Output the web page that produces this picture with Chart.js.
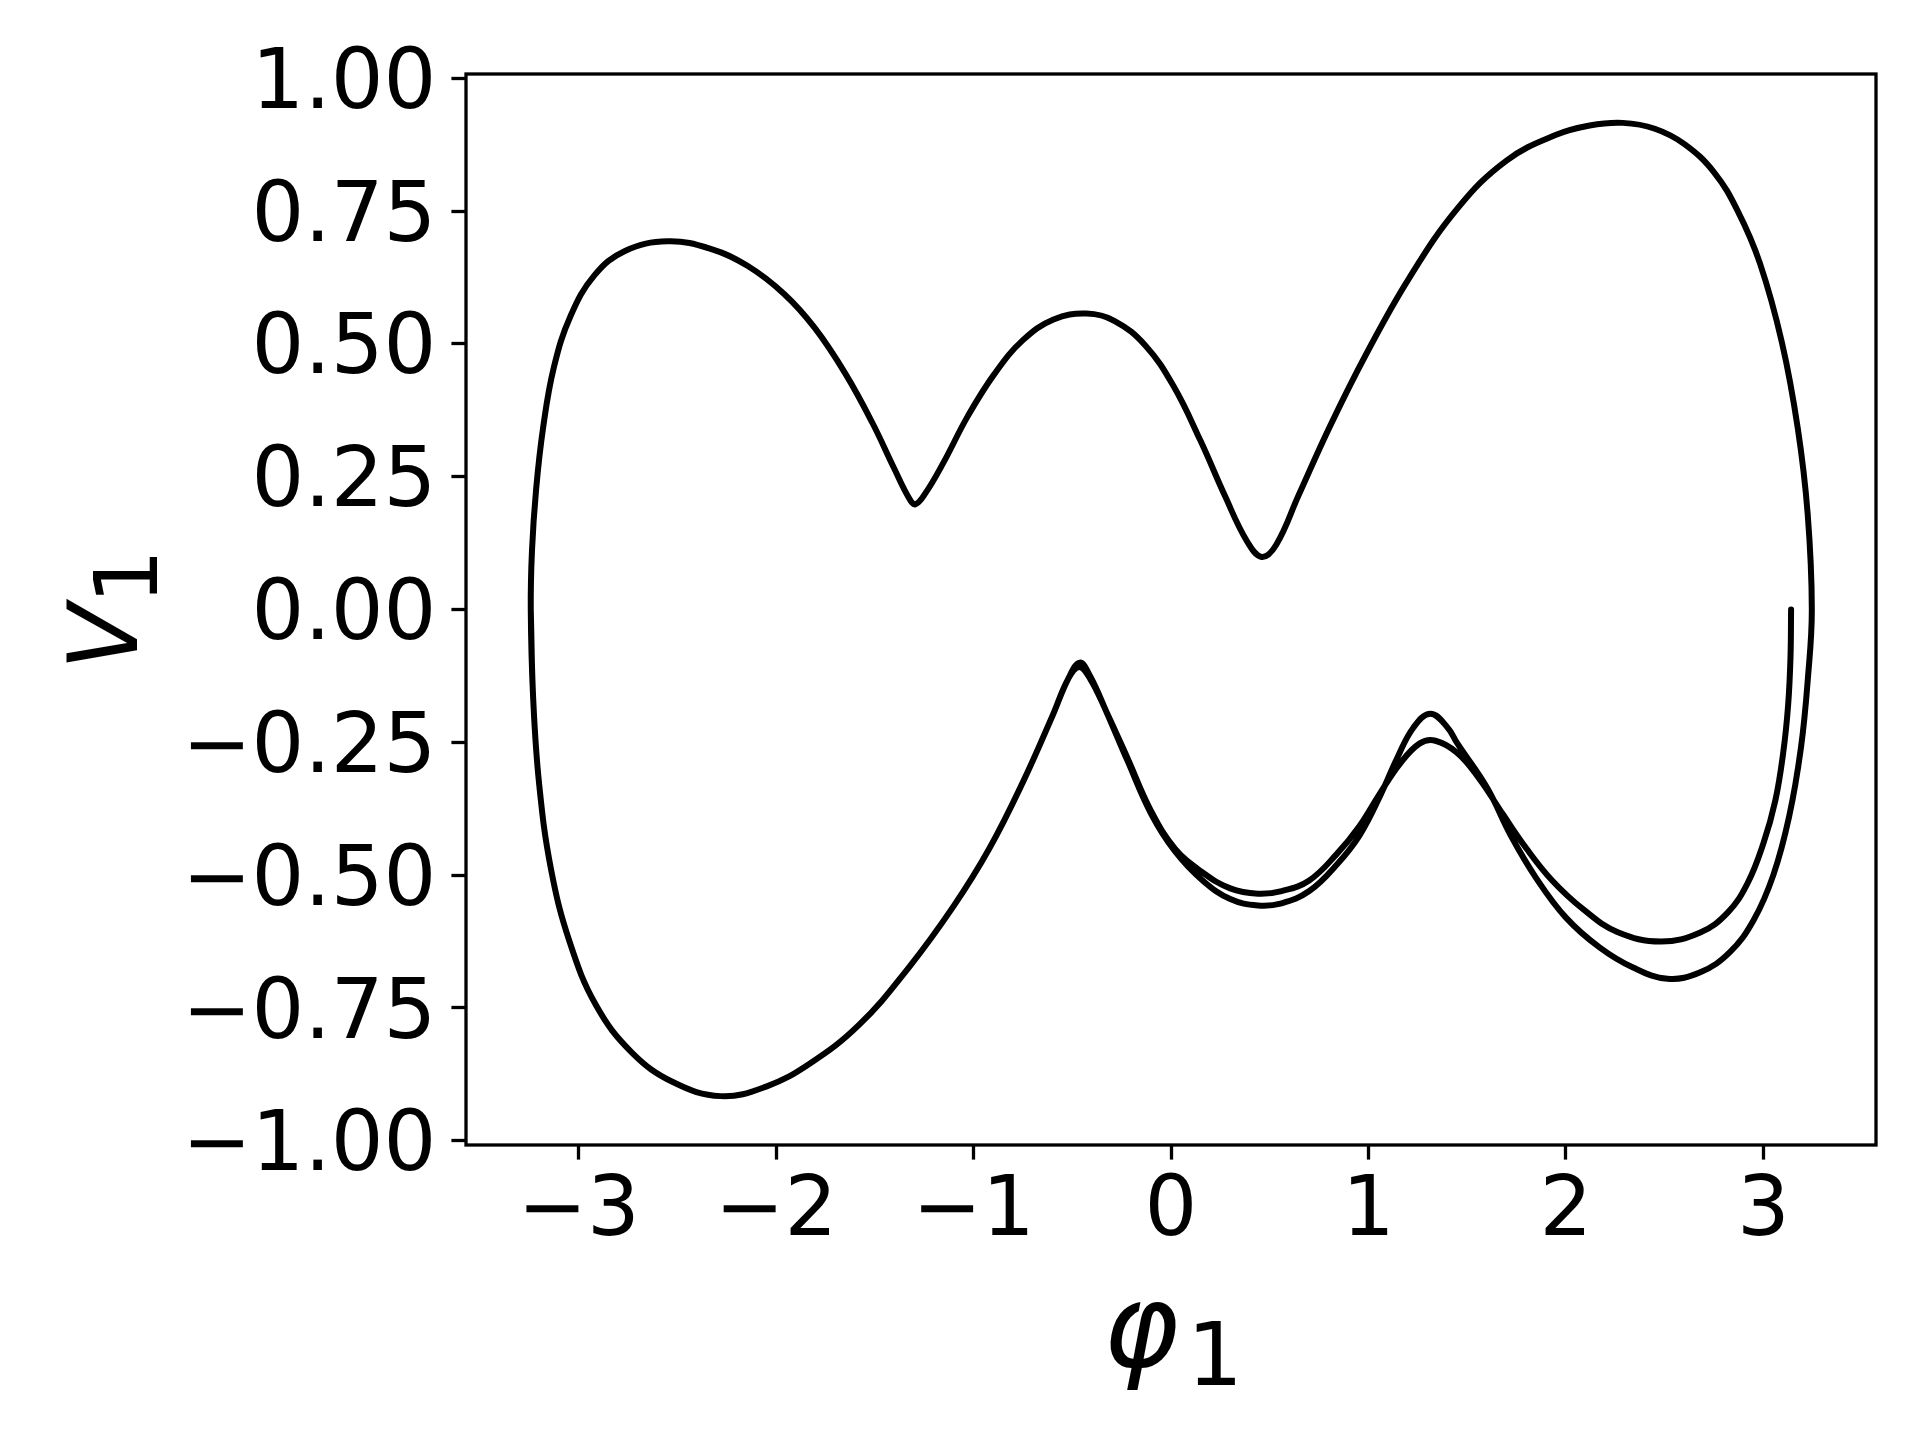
<!DOCTYPE html>
<html>
<head>
<meta charset="utf-8">
<title>phase portrait</title>
<script src="https://cdn.jsdelivr.net/npm/chart.js@4.4.1/dist/chart.umd.min.js"></script>
<style>
    html, body { margin: 0; padding: 0; background: #fff; }
    #wrap { width: 1920px; height: 1440px; }
</style>
</head>
<body>
<div id="wrap"><canvas id="phase" width="1920" height="1440"></canvas></div>
<script>
/* ---- data (phi_1, V_1) ---- */
/* first pass: starts at (pi, 0), inner strand of the lower right loop */
var innerPhi = [3.14, 3.137, 3.125, 3.10, 3.06, 3.00, 2.92, 2.82, 2.68, 2.48, 2.26, 2.09, 1.93, 1.80, 1.68, 1.56, 1.45, 1.339, 1.26, 1.16, 1.06, 0.95, 0.84, 0.70, 0.56, 0.44, 0.30, 0.16, 0.02, -0.10, -0.22, -0.33, -0.41, -0.465];
var innerV   = [0.0, -0.09, -0.18, -0.27, -0.36, -0.44, -0.515, -0.57, -0.608, -0.625, -0.607, -0.565, -0.51, -0.45, -0.385, -0.318, -0.27, -0.247, -0.252, -0.29, -0.345, -0.41, -0.46, -0.51, -0.53, -0.535, -0.525, -0.495, -0.45, -0.38, -0.28, -0.19, -0.13, -0.108];

/* lower left arc, from the small peak near -0.47 back to the left edge */
var arcPhi = [-0.52, -0.60, -0.75, -0.92, -1.10, -1.33, -1.58, -1.83, -2.05, -2.28, -2.52, -2.73, -2.91, -3.045, -3.14, -3.20, -3.23, -3.242];
var arcV   = [-0.13, -0.20, -0.325, -0.45, -0.558, -0.675, -0.782, -0.855, -0.898, -0.916, -0.89, -0.834, -0.746, -0.626, -0.488, -0.327, -0.166, 0.0];

/* upper half, left edge to right edge */
var upperPhi = [-3.236, -3.215, -3.18, -3.125, -3.04, -2.92, -2.765, -2.548, -2.331, -2.145, -1.959, -1.804, -1.649, -1.513, -1.401, -1.327, -1.295, -1.245, -1.153, -1.029, -0.893, -0.750, -0.595, -0.428, -0.285, -0.130, 0.012, 0.149, 0.273, 0.384, 0.459, 0.533, 0.645, 0.800, 0.986, 1.203, 1.451, 1.699, 1.947, 2.12, 2.288, 2.45, 2.60, 2.75, 2.87, 2.982, 3.094, 3.174, 3.224, 3.245];
var upperV   = [0.11, 0.226, 0.341, 0.456, 0.553, 0.629, 0.675, 0.693, 0.679, 0.647, 0.594, 0.530, 0.444, 0.352, 0.265, 0.210, 0.198, 0.218, 0.276, 0.364, 0.444, 0.507, 0.546, 0.557, 0.543, 0.497, 0.421, 0.318, 0.214, 0.129, 0.099, 0.122, 0.214, 0.341, 0.479, 0.622, 0.755, 0.845, 0.893, 0.911, 0.916, 0.905, 0.876, 0.823, 0.75, 0.652, 0.502, 0.341, 0.180, 0.0];

/* lower half, outer strand, right edge to the small peak near -0.47 */
var outerPhi = [3.225, 3.19, 3.13, 3.05, 2.95, 2.83, 2.68, 2.514, 2.34, 2.17, 2.00, 1.85, 1.72, 1.60, 1.45, 1.40, 1.314, 1.228, 1.146, 1.06, 0.955, 0.84, 0.70, 0.56, 0.44, 0.30, 0.16, 0.02, -0.10, -0.22, -0.33, -0.41, -0.462];
var outerV   = [-0.13, -0.26, -0.39, -0.50, -0.585, -0.645, -0.683, -0.695, -0.674, -0.636, -0.580, -0.506, -0.425, -0.335, -0.252, -0.222, -0.196, -0.222, -0.279, -0.35, -0.425, -0.48, -0.53, -0.553, -0.557, -0.545, -0.51, -0.455, -0.385, -0.285, -0.19, -0.125, -0.100];

var xTicks = [-3, -2, -1, 0, 1, 2, 3];
var yTicks = [-1.0, -0.75, -0.5, -0.25, 0.0, 0.25, 0.5, 0.75, 1.0];

(function() {
    'use strict';

    var FONT = "'DejaVu Sans', 'Liberation Sans', sans-serif";
    var MINUS = '\u2212';

    /* trajectory order: inner pass -> arc -> upper -> outer -> arc */
    function pts(xs, ys) {
        return xs.map(function(x, i) { return { x: x, y: ys[i] }; });
    }
    var trajectory = []
        .concat(pts(innerPhi, innerV))
        .concat(pts(arcPhi, arcV))
        .concat(pts(upperPhi, upperV))
        .concat(pts(outerPhi, outerV))
        .concat(pts(arcPhi, arcV));

    function fmt(v, digits) {
        var s = Math.abs(v).toFixed(digits);
        return (v < -1e-9 ? MINUS : '') + s;
    }

    /* mathtext-like label: italic symbol + upright, lowered subscript */
    function drawMathLabel(ctx, main, mainSize, sub, subSize, gap, cx, baseline, drop) {
        ctx.font = 'italic ' + mainSize + 'px ' + FONT;
        var wm = ctx.measureText(main).width;
        ctx.font = subSize + 'px ' + FONT;
        var ws = ctx.measureText(sub).width;
        var x0 = cx - (wm + gap + ws) / 2;
        ctx.textAlign = 'left';
        ctx.textBaseline = 'alphabetic';
        ctx.fillStyle = '#000';
        ctx.font = 'italic ' + mainSize + 'px ' + FONT;
        ctx.fillText(main, x0, baseline);
        ctx.font = subSize + 'px ' + FONT;
        ctx.fillText(sub, x0 + wm + gap, baseline + drop);
    }

    var framePlugin = {
        id: 'frame',
        afterDraw: function(chart) {
            var a = chart.chartArea;
            var ctx = chart.ctx;
            ctx.save();
            ctx.lineWidth = 3.3;
            ctx.strokeStyle = '#000';
            ctx.strokeRect(a.left, a.top, a.right - a.left, a.bottom - a.top);

            drawMathLabel(ctx, '\u03C6', 115, '1', 88, 8, (a.left + a.right) / 2 + 2, 1366, 19);

            ctx.translate(137, (a.top + a.bottom) / 2);
            ctx.rotate(-Math.PI / 2);
            drawMathLabel(ctx, 'V', 96, '1', 87, 0, 0, 0, 20);
            ctx.restore();
        }
    };

    var tickGrid = {
        display: true,
        drawOnChartArea: false,
        drawTicks: true,
        tickLength: 14.6,
        tickWidth: 3.3,
        tickColor: '#000'
    };

    new Chart(document.getElementById('phase'), {
        type: 'scatter',
        data: {
            datasets: [{
                data: trajectory,
                showLine: true,
                borderColor: '#000',
                borderWidth: 6,
                borderJoinStyle: 'round',
                borderCapStyle: 'round',
                tension: 0.4,
                pointRadius: 0,
                fill: false
            }]
        },
        options: {
            responsive: false,
            devicePixelRatio: 1,
            animation: false,
            layout: { padding: { left: 0, top: 74, right: 44, bottom: 0 } },
            plugins: {
                legend: { display: false },
                tooltip: { enabled: false }
            },
            scales: {
                x: {
                    type: 'linear',
                    min: -3.57,
                    max: 3.57,
                    border: { display: false },
                    grid: tickGrid,
                    afterFit: function(scale) { scale.height = 295; },
                    afterBuildTicks: function(scale) {
                        scale.ticks = xTicks.map(function(v) { return { value: v }; });
                    },
                    ticks: {
                        autoSkip: false,
                        maxRotation: 0,
                        padding: 4,
                        color: '#000',
                        font: { size: 83, family: FONT },
                        callback: function(v) { return fmt(v, 0); }
                    }
                },
                y: {
                    type: 'linear',
                    min: -1.008,
                    max: 1.008,
                    border: { display: false },
                    grid: tickGrid,
                    afterFit: function(scale) { scale.width = 466; },
                    afterBuildTicks: function(scale) {
                        scale.ticks = yTicks.map(function(v) { return { value: v }; });
                    },
                    ticks: {
                        autoSkip: false,
                        padding: 15,
                        color: '#000',
                        /* empty first line pushes the label down by lineHeight/2 (8px) */
                        font: { size: 83, family: FONT, lineHeight: '16px' },
                        callback: function(v) { return ['', fmt(v, 2)]; }
                    }
                }
            }
        },
        plugins: [framePlugin]
    });
})();
</script>
</body>
</html>
